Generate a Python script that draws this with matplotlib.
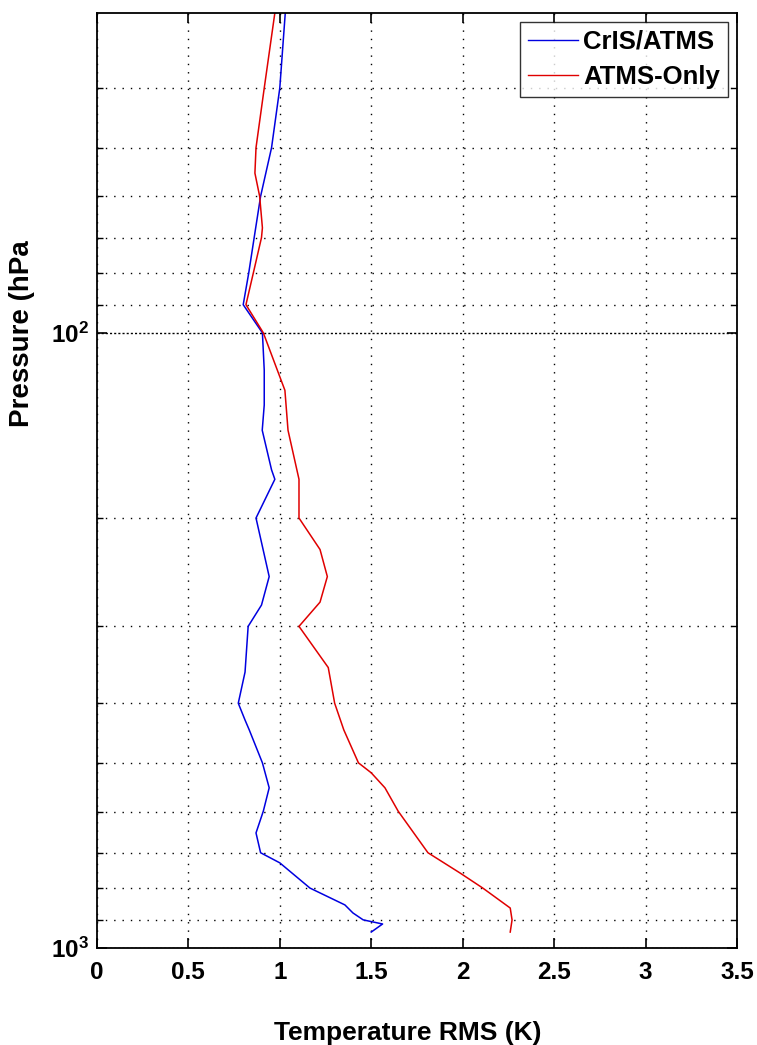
import matplotlib
matplotlib.use("Agg")
import matplotlib.pyplot as plt
from matplotlib.ticker import LogLocator, NullFormatter

plt.rcParams['font.family'] = ['Liberation Sans', 'DejaVu Sans']

# pressure levels (hPa) and RMS values (K)
p_cris = [30.2, 40, 50, 60, 70, 80, 90, 100, 115, 131, 144, 167, 173, 200,
          249, 277, 300, 356, 400, 426, 442, 500, 549, 599, 650, 700, 727,
          799, 851, 877, 900, 914, 942]
t_cris = [1.03, 1.00, 0.955, 0.895, 0.86, 0.83, 0.80, 0.905, 0.915, 0.915,
          0.904, 0.955, 0.973, 0.87, 0.942, 0.90, 0.827, 0.81, 0.773, 0.81,
          0.833, 0.905, 0.942, 0.91, 0.87, 0.895, 1.00, 1.165, 1.356, 1.40,
          1.456, 1.562, 1.50]

p_atms = [30.2, 40, 50, 55, 60, 67.5, 70, 80, 90, 100, 124, 144, 173, 200,
          225, 249, 274, 300, 350, 400, 442, 500, 519, 549, 599, 700, 755,
          799, 861, 900, 942]
t_atms = [0.973, 0.915, 0.87, 0.864, 0.89, 0.905, 0.90, 0.855, 0.815, 0.91,
          1.028, 1.045, 1.105, 1.105, 1.22, 1.26, 1.22, 1.105, 1.265, 1.30,
          1.35, 1.43, 1.50, 1.575, 1.647, 1.81, 1.985, 2.11, 2.26, 2.27, 2.26]

x_ticks = [0, 0.5, 1, 1.5, 2, 2.5, 3, 3.5]
x_ticklabels = ['0', '0.5', '1', '1.5', '2', '2.5', '3', '3.5']

fig = plt.figure(figsize=(7.57, 10.45), dpi=100)
ax = fig.add_axes([0.128, 0.0928, 0.8456, 0.8948])

ax.plot(t_cris, p_cris, color='#0000e0', lw=1.1, label='CrIS/ATMS')
ax.plot(t_atms, p_atms, color='#e00000', lw=1.1, label='ATMS-Only')

ax.set_yscale('log')
ax.set_ylim(1000, 30.2)
ax.set_xlim(0, 3.5)
ax.set_xticks(x_ticks)
ax.set_xticklabels(x_ticklabels)
ax.yaxis.set_major_locator(LogLocator(base=10, numticks=10))
ax.yaxis.set_minor_locator(LogLocator(base=10, subs=range(2, 10), numticks=10))
ax.yaxis.set_minor_formatter(NullFormatter())

ax.tick_params(which='both', direction='in', top=True, right=True,
               labelsize=17.5, colors='black')
ax.tick_params(which='major', length=7, width=1.2)
ax.tick_params(which='minor', length=4, width=1.0)
ax.tick_params(axis='x', pad=9)
ax.tick_params(axis='y', pad=6)
for lab in ax.get_xticklabels() + ax.get_yticklabels():
    lab.set_fontweight('bold')

ax.grid(True, which='major', axis='x', color='black', ls=(0, (1, 5)), lw=1.0)
ax.grid(True, which='minor', axis='y', color='black', ls=(0, (1, 5)), lw=1.0)
ax.grid(True, which='major', axis='y', color='black', ls=(0, (1.5, 1.5)), lw=1.0)

for s in ax.spines.values():
    s.set_linewidth(1.3)

ax.set_xlabel('Temperature RMS (K)', fontsize=19, fontweight='bold')
ax.xaxis.set_label_coords(0.486, -0.0785)
ax.set_ylabel('Pressure (hPa', fontsize=20, fontweight='bold', va='center')
ax.yaxis.set_label_coords(-0.117, 0.657)

leg = ax.legend(loc='upper right', prop={'size': 18.5, 'weight': 'bold'},
                frameon=True, fancybox=False, handlelength=1.95,
                handletextpad=0.2, borderpad=0.3, labelspacing=0.45,
                borderaxespad=0.35)
leg.get_frame().set_edgecolor('black')
leg.get_frame().set_linewidth(1.0)
for h in leg.get_lines():
    h.set_linewidth(1.0)

fig.savefig('out.png', dpi=100)
